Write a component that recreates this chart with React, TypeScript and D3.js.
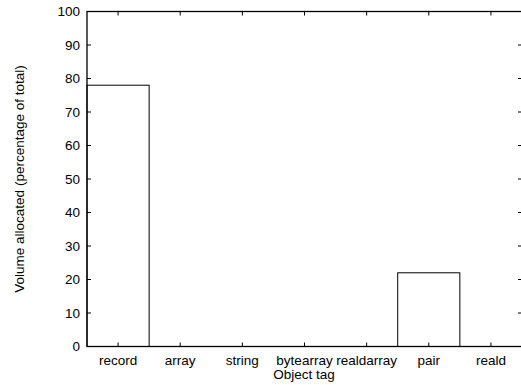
import React from "react";
import * as d3 from "d3";

const categories = ["record", "array", "string", "bytearray", "realdarray", "pair", "reald"];
const volumes = [78, 0, 0, 0, 0, 22, 0];
const yTicks = [0, 10, 20, 30, 40, 50, 60, 70, 80, 90, 100];

const W = 521;
const H = 385;
const left = 87;
const right = 522;
const top = 11.5;
const bottom = 346.5;
const font = "'Liberation Sans', Arial, Helvetica, sans-serif";
const fs = 13.5;

export default function App() {
  const x = d3.scaleLinear().domain([-0.5, categories.length - 0.5]).range([left, right]);
  const y = d3.scaleLinear().domain([0, 100]).range([bottom, top]);
  const tick = 4;

  return (
    <svg width={W} height={H} style={{ position: "absolute", left: 0, top: 0 }} fontFamily={font}>
      <rect width={W} height={H} fill="#fff" />
      {/* bars */}
      {volumes.map((v, i) =>
        v > 0 ? (
          <rect
            key={i}
            x={x(i - 0.5)}
            y={y(v)}
            width={x(i + 0.5) - x(i - 0.5)}
            height={y(0) - y(v)}
            fill="none"
            stroke="#000"
            strokeWidth={1}
          />
        ) : null
      )}
      {/* y ticks, mirrored on the right */}
      {yTicks.map((t) => (
        <g key={t}>
          <line x1={left} x2={left + tick} y1={y(t)} y2={y(t)} stroke="#000" />
          <line x1={right - tick} x2={right} y1={y(t)} y2={y(t)} stroke="#000" />
          <text x={left - 7} y={y(t)} dy="0.35em" textAnchor="end" fontSize={fs}>
            {t}
          </text>
        </g>
      ))}
      {/* x ticks, mirrored on top */}
      {categories.map((c, i) => (
        <g key={c}>
          <line x1={x(i)} x2={x(i)} y1={bottom} y2={bottom - tick} stroke="#000" />
          <line x1={x(i)} x2={x(i)} y1={top} y2={top + tick} stroke="#000" />
          <text x={x(i)} y={365} textAnchor="middle" fontSize={fs}>
            {c}
          </text>
        </g>
      ))}
      {/* frame */}
      <rect x={left} y={top} width={right - left} height={bottom - top} fill="none" stroke="#000" strokeWidth={1.3} />
      <text x={304} y={379} textAnchor="middle" fontSize={fs}>
        Object tag
      </text>
      <text
        transform={`translate(24,${(top + bottom) / 2}) rotate(-90)`}
        textAnchor="middle"
        fontSize={fs}
      >
        Volume allocated (percentage of total)
      </text>
    </svg>
  );
}
